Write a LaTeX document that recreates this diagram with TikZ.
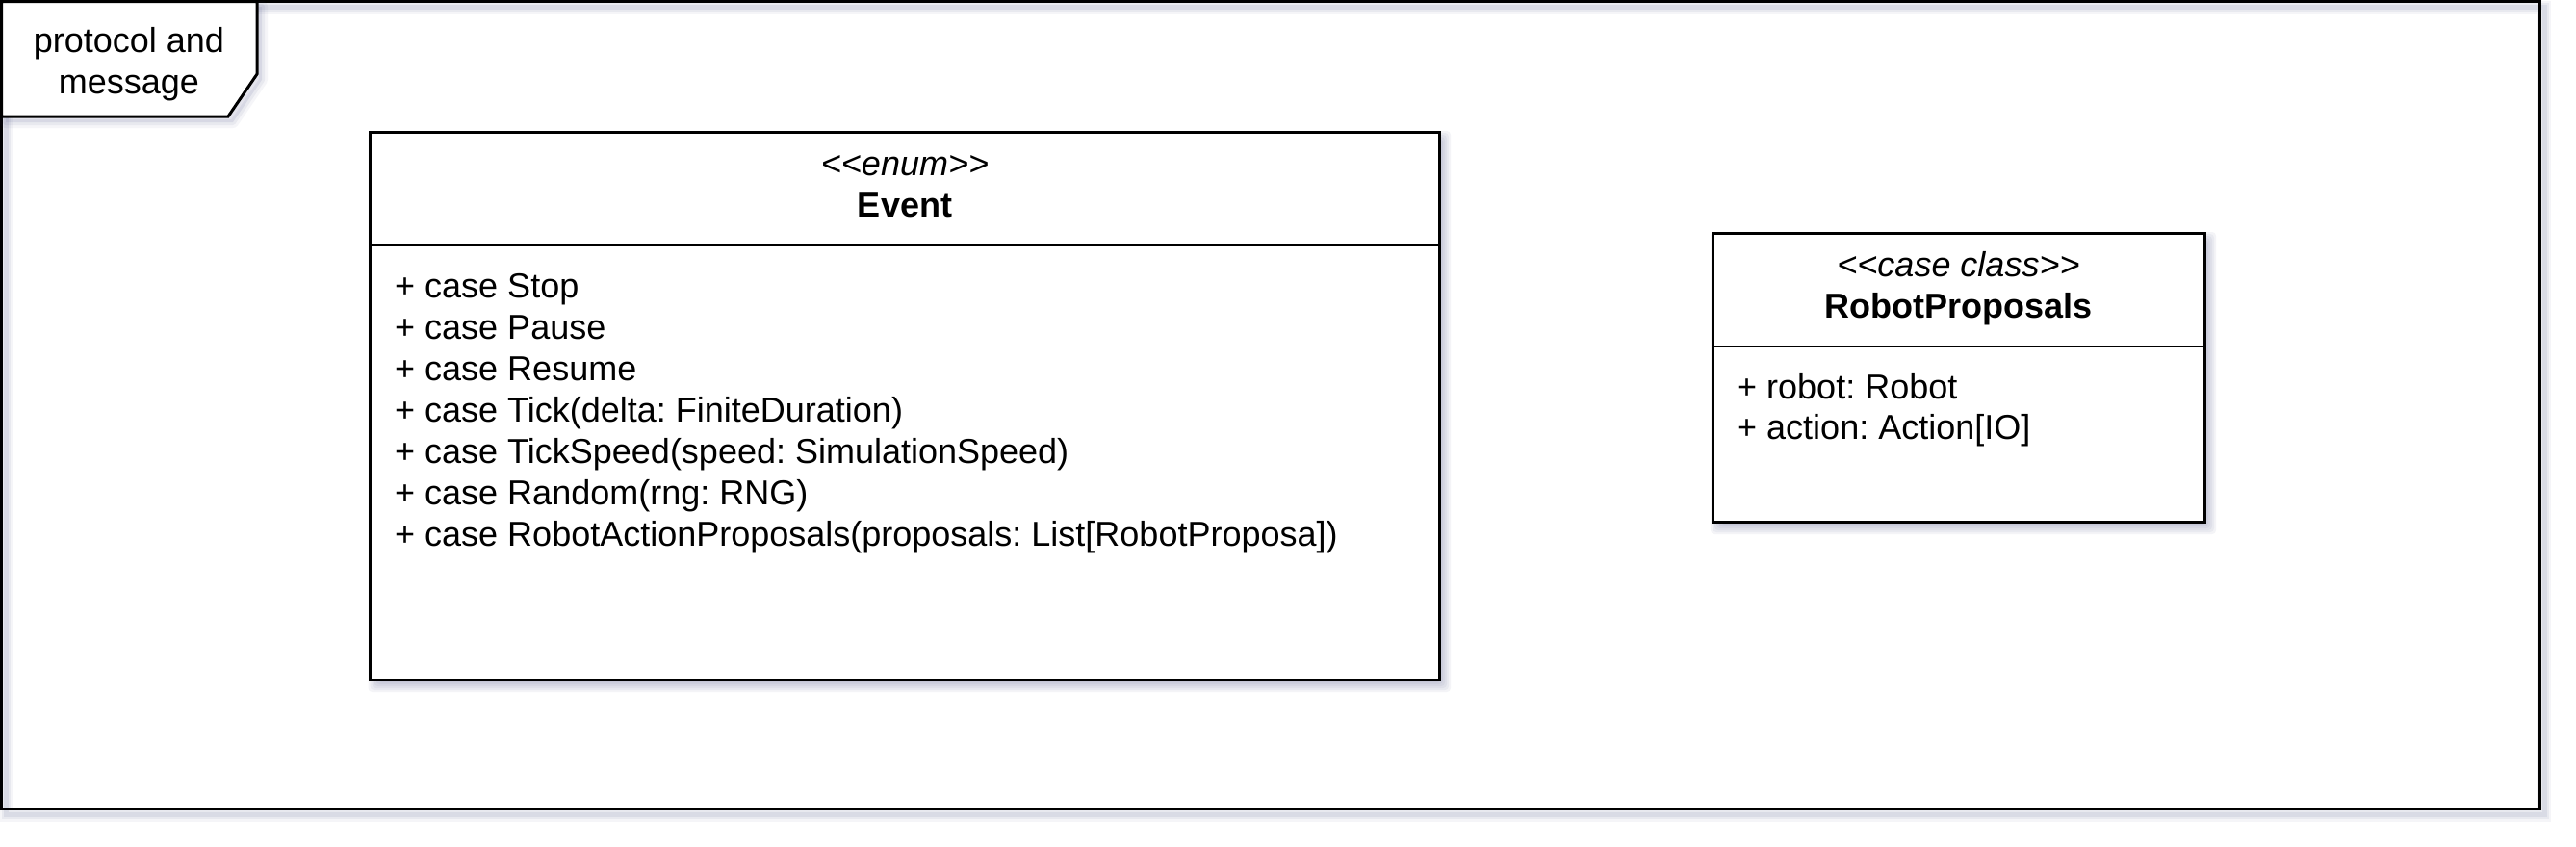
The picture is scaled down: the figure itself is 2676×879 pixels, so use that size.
\documentclass[tikz,border=0pt]{standalone}
\usepackage{fontspec}
\setmainfont{Liberation Sans}
\frenchspacing
\definecolor{shadowc}{RGB}{70,78,130}
\newcommand\dsize{\fontsize{36pt}{43pt}\selectfont}
% soft shadow behind a rectangle given by corners (x1,y1) (x2,y2), y downwards
\newcommand\mysoftshadow[4]{%
  \foreach \r in {-3,-1,1,3,5,7}{%
    \fill[shadowc,opacity=0.06,rounded corners=4pt]
      ({#1+5-\r},{#2+6-\r}) rectangle ({#3+5+\r},{#4+6+\r});}}
\tikzset{
  umlbox/.style={draw=black, line width=3pt, fill=white, rectangle,
    inner sep=0pt, outer sep=0pt, anchor=north west},
  framebox/.style={draw=black, line width=3pt, rectangle,
    inner sep=0pt, outer sep=0pt, anchor=north west},
  sepline/.style={draw=black, line width=2.4pt},
  txt/.style={font=\dsize, inner sep=0pt, text=black},
  stereo/.style={font=\dsize\itshape, inner sep=0pt, text=black},
  cname/.style={font=\dsize\bfseries, inner sep=0pt, text=black},
}
\begin{document}
\begin{tikzpicture}[x=1pt,y=-1pt]
\useasboundingbox[fill=white] (0,0) rectangle (2676,879);

% frame stroke shadow
\foreach \w/\o in {14/0.05,9/0.07,5/0.09}{
  \draw[shadowc,opacity=\o,line width=\w pt] (6.5,7.5) rectangle (2643,846.7);}
\node[framebox, minimum width=2636.5pt, minimum height=839.2pt] (frame) at (1.5,1.5) {};

% tab shadow
\fill[shadowc,opacity=0.10] (6,7) -- (272,7) -- (272,83) -- (242,127) -- (6,127) -- cycle;
\foreach \w/\o in {12/0.05,6/0.07}{
  \draw[shadowc,opacity=\o,line width=\w pt,line join=round]
    (6,7) -- (272,7) -- (272,83) -- (242,127) -- (6,127) -- cycle;}
\filldraw[fill=white, draw=black, line width=3pt]
  (frame.north west) -- ++(265.5,0) -- ++(0,75.5) -- ++(-30,44) -- (frame.west |- 0,121) -- cycle;
\node[txt, anchor=base] (tab1) at (134,54) {protocol and};
\node[txt, anchor=base] (tab2) at (134,97) {message};

% Event enum
\mysoftshadow{384.5}{137}{1495}{706}
\node[umlbox, minimum width=1110.5pt, minimum height=569pt] (event) at (384.5,137) {};
\draw[sepline] (event.west |- 0,254.5) -- (event.east |- 0,254.5);
\node[stereo, anchor=base] (evst) at (940,182) {<{}<enum>{}>};
\node[cname, anchor=base] (evname) at (940,225) {Event};
\node[txt, anchor=base west] (ev1) at (410,309) {+ case Stop};
\node[txt, anchor=base west] (ev2) at (410,352) {+ case Pause};
\node[txt, anchor=base west] (ev3) at (410,395) {+ case Resume};
\node[txt, anchor=base west] (ev4) at (410,438) {+ case Tick(delta: FiniteDuration)};
\node[txt, anchor=base west] (ev5) at (410,481) {+ case TickSpeed(speed: SimulationSpeed)};
\node[txt, anchor=base west] (ev6) at (410,524) {+ case Random(rng: RNG)};
\node[txt, anchor=base west] (ev7) at (410,567) {+ case RobotActionProposals(proposals: List[RobotProposa])};

% RobotProposals case class
\mysoftshadow{1779}{242}{2290}{542}
\node[umlbox, minimum width=511pt, minimum height=300pt] (robot) at (1779,242) {};
\draw[sepline] (robot.west |- 0,360) -- (robot.east |- 0,360);
\node[stereo, anchor=base] (rpst) at (2034.5,287) {<{}<case class>{}>};
\node[cname, anchor=base] (rpname) at (2034.5,330) {RobotProposals};
\node[txt, anchor=base west] (rp1) at (1804,414) {+ robot: Robot};
\node[txt, anchor=base west] (rp2) at (1804,456) {+ action: Action[IO]};
\end{tikzpicture}
\end{document}
